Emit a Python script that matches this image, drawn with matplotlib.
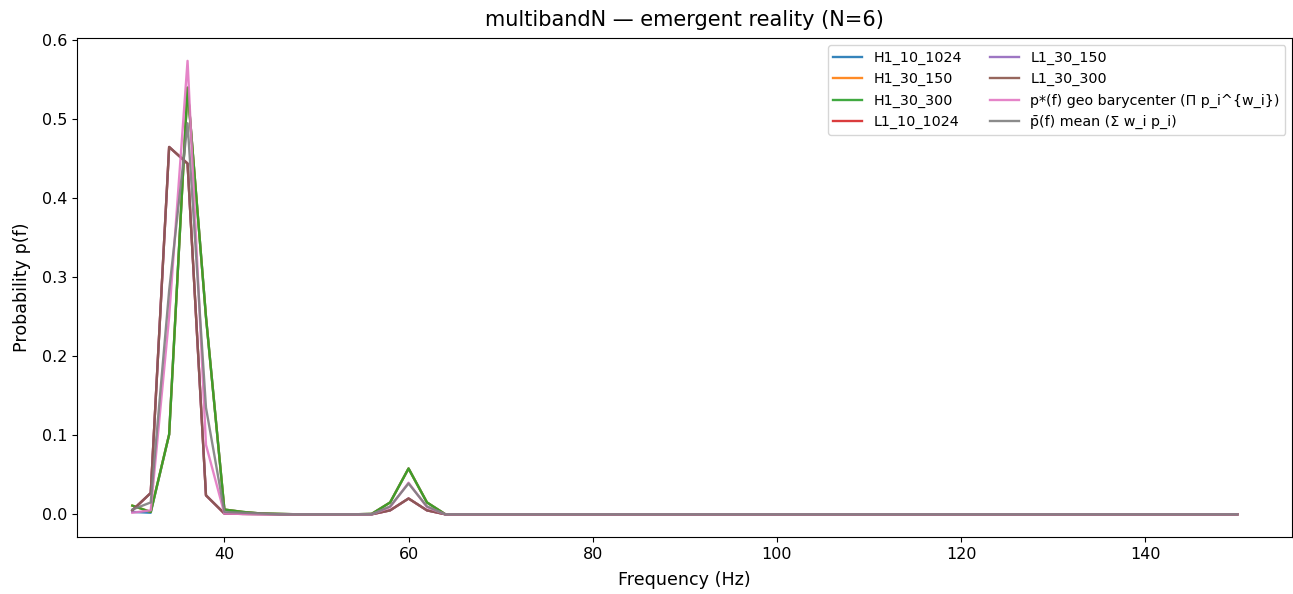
import numpy as np
import matplotlib
matplotlib.use("Agg")
import matplotlib.pyplot as plt

# Frequency grid (Hz)
freqs = list(range(30, 152, 2))
n = len(freqs)

def series(head, bump):
    vals = [0.0] * n
    for i, v in enumerate(head):
        vals[i] = v
    for f, v in bump.items():
        vals[freqs.index(f)] = v
    return vals

# Values (30, 32, 34, ... Hz)
H1_head = [0.011, 0.003, 0.101, 0.540, 0.250, 0.006, 0.003, 0.001, 0.0005]
H1_bump = {56: 0.0005, 58: 0.015, 60: 0.058, 62: 0.015}
L1_head = [0.005, 0.027, 0.465, 0.444, 0.024, 0.001, 0.0005, 0.0003]
L1_bump = {58: 0.005, 60: 0.020, 62: 0.005}
geo_head = [0.002, 0.005, 0.250, 0.574, 0.088, 0.001, 0.0005]
geo_bump = {58: 0.009, 60: 0.040, 62: 0.009}
mean_head = [0.006, 0.015, 0.283, 0.495, 0.135, 0.003, 0.002, 0.001]
mean_bump = {58: 0.010, 60: 0.039, 62: 0.010}

H1_10_1024 = series([0.003, 0.002] + H1_head[2:], H1_bump)
H1_30_150 = series(H1_head, H1_bump)
H1_30_300 = series(H1_head, H1_bump)
L1_10_1024 = series(L1_head, L1_bump)
L1_30_150 = series(L1_head, L1_bump)
L1_30_300 = series(L1_head, L1_bump)
p_geo = series(geo_head, geo_bump)
p_mean = series(mean_head, mean_bump)

labels = ["H1_10_1024", "H1_30_150", "H1_30_300", "L1_10_1024",
          "L1_30_150", "L1_30_300",
          "p*(f) geo barycenter (Π p_i^{w_i})",
          "p̄(f) mean (Σ w_i p_i)"]
data = [H1_10_1024, H1_30_150, H1_30_300, L1_10_1024, L1_30_150,
        L1_30_300, p_geo, p_mean]

plt.rcParams['font.size'] = 11.5
fig = plt.figure(figsize=(12.93, 5.94), dpi=100)
ax = fig.add_axes([0.0596, 0.096, 0.940, 0.8397])
for lab, d in zip(labels, data):
    ax.plot(freqs, d, label=lab, lw=1.7, alpha=0.9)
ax.set_title("multibandN — emergent reality (N=6)", fontsize=15, pad=8.5)
ax.set_xlabel("Frequency (Hz)", fontsize=12.6, labelpad=6.5)
ax.set_ylabel("Probability p(f)", fontsize=12.6, labelpad=8)
ax.legend(ncol=2, loc="upper right", fontsize=10.25)
fig.savefig("out.png", dpi=100)
